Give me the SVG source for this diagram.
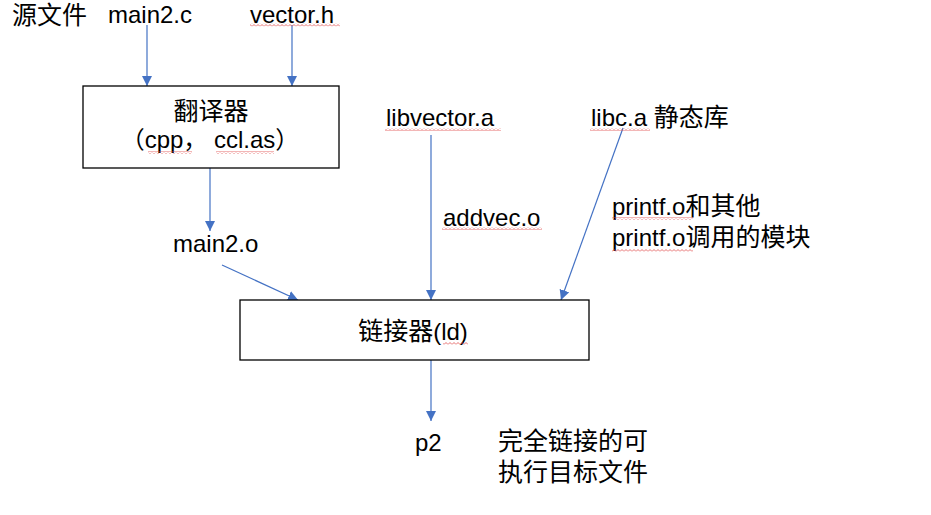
<svg xmlns="http://www.w3.org/2000/svg" width="931" height="515" viewBox="0 0 931 515">
<defs>
<style>
text{font-family:"Liberation Sans","Noto Sans CJK SC",sans-serif;font-size:24px;fill:#000}
.cj{font-size:25px}
.box{fill:#fff;stroke:#000;stroke-width:1.3}
.c{stroke:#4472C4;stroke-width:1.2;fill:none}
.sq{fill:url(#wave)}
</style>
<pattern id="wave" width="4" height="3" patternUnits="userSpaceOnUse">
<path d="M0,2.5 L2,0.5 L4,2.5" stroke="#e04848" stroke-width="0.8" fill="none"/>
</pattern>
<marker id="ah" viewBox="0 0 10 10" refX="10" refY="5" markerWidth="10" markerHeight="10" markerUnits="userSpaceOnUse" orient="auto">
<path d="M0,0 L10,5 L0,10 z" fill="#4472C4"/>
</marker>
</defs>
<rect width="931" height="515" fill="#fff"/>
<g id="connectors">
<line class="c" x1="147" y1="25" x2="147" y2="86" marker-end="url(#ah)"/>
<line class="c" x1="292" y1="25" x2="292" y2="86" marker-end="url(#ah)"/>
<line class="c" x1="210" y1="168" x2="210" y2="231" marker-end="url(#ah)"/>
<line class="c" x1="222" y1="265" x2="298" y2="300" marker-end="url(#ah)"/>
<line class="c" x1="431" y1="135" x2="431" y2="300" marker-end="url(#ah)"/>
<line class="c" x1="623" y1="128" x2="561" y2="300" marker-end="url(#ah)"/>
<line class="c" x1="431" y1="360" x2="431" y2="421" marker-end="url(#ah)"/>
</g>
<g id="src"><text class="cj" x="12" y="24">源文件</text></g>
<g id="main2c"><text x="108" y="23">main2.c</text></g>
<g id="vectorh"><text x="250" y="23">vector.h</text></g>
<g id="translator">
<rect class="box" x="83" y="86" width="256" height="82"/>
<text class="cj" x="211" y="120" text-anchor="middle">翻译器</text>
<text x="210" y="148" text-anchor="middle">（cpp， ccl.as）</text>
</g>
<g id="main2o"><text x="173" y="252">main2.o</text></g>
<g id="libvector"><text x="386" y="126">libvector.a</text></g>
<g id="addvec"><text x="443" y="226">addvec.o</text></g>
<g id="libc"><text x="591" y="126">libc.a <tspan class="cj">静态库</tspan></text></g>
<g id="printf">
<text x="612" y="215">printf.o<tspan class="cj">和其他</tspan></text>
<text x="612" y="246">printf.o<tspan class="cj">调用的模块</tspan></text>
</g>
<g id="linker">
<rect class="box" x="240" y="300" width="349" height="60"/>
<text x="413" y="340" text-anchor="middle"><tspan class="cj">链接器</tspan>(ld)</text>
</g>
<g id="p2"><text x="415" y="451">p2</text></g>
<g id="desc">
<text class="cj" x="498" y="450">完全链接的可</text>
<text class="cj" x="498" y="481">执行目标文件</text>
</g>
<g id="spellcheck">
<rect class="sq" x="250" y="23.5" width="90" height="3"/>
<rect class="sq" x="148" y="151" width="44" height="3"/>
<rect class="sq" x="216" y="151" width="58" height="3"/>
<rect class="sq" x="385" y="128" width="116" height="3"/>
<rect class="sq" x="590" y="128" width="60" height="3"/>
<rect class="sq" x="442" y="227" width="100" height="3"/>
<rect class="sq" x="612" y="217" width="81" height="3"/>
<rect class="sq" x="612" y="249" width="81" height="3"/>
<rect class="sq" x="443" y="342" width="25" height="3"/>
</g>
</svg>
